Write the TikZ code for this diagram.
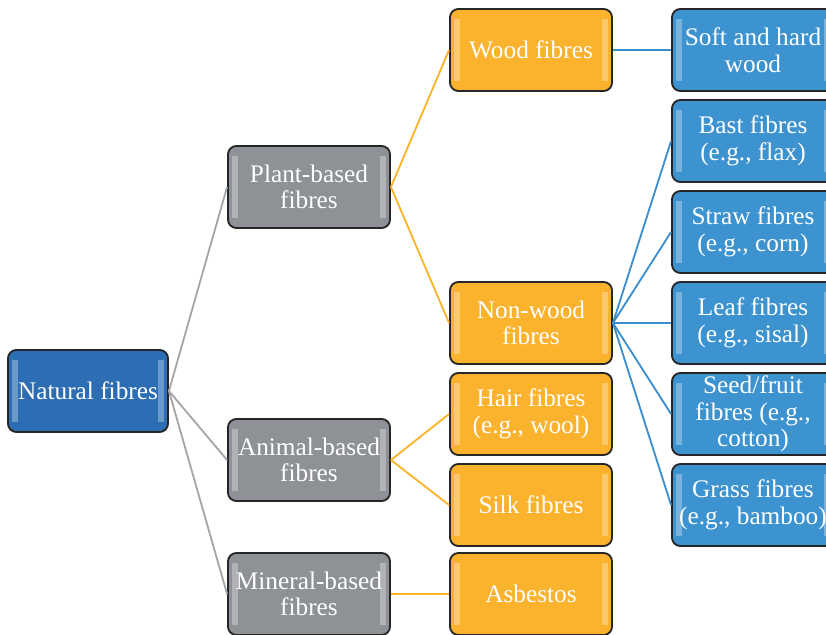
\documentclass[tikz,border=0pt]{standalone}
\usepackage{fontspec}
\setmainfont{Liberation Serif}
\usetikzlibrary{positioning}

\definecolor{rootblue}{HTML}{2C6DB4}
\definecolor{leafblue}{HTML}{3C93D0}
\definecolor{stonegray}{HTML}{8E9195}
\definecolor{amber}{HTML}{FBB22D}
\definecolor{rimgray}{HTML}{262626}
\definecolor{linkgray}{HTML}{A3A6AA}
\definecolor{linkamber}{HTML}{FBB42A}
\definecolor{linkblue}{HTML}{3A8ECE}

\tikzset{
  fibrebox/.style={draw=rimgray, line width=1.3pt, rounded corners=6pt,
    minimum width=4.05cm, minimum height=2.05cm, inner sep=1pt,
    align=center, text=white, font=\fontsize{18}{18.9}\selectfont,
    path picture={
      \fill[white,opacity=0.3,sharp corners]
        ([shift={(3pt,-7pt)}]path picture bounding box.north west) rectangle
        ([shift={(7pt,7pt)}]path picture bounding box.south west);
      \fill[white,opacity=0.3,sharp corners]
        ([shift={(-3pt,-7pt)}]path picture bounding box.north east) rectangle
        ([shift={(-7pt,7pt)}]path picture bounding box.south east);
    }},
  rootbox/.style={fibrebox, fill=rootblue, minimum width=4cm},
  groupbox/.style={fibrebox, fill=stonegray},
  kindbox/.style={fibrebox, fill=amber},
  sortbox/.style={fibrebox, fill=leafblue},
  graylink/.style={draw=linkgray, line width=1.3pt},
  amberlink/.style={draw=linkamber, line width=1.3pt},
  bluelink/.style={draw=linkblue, line width=1.3pt}
}

\begin{document}
\begin{tikzpicture}[x=0.025cm,y=-0.025cm]
  \clip (0,0) rectangle (826,635);
  \useasboundingbox (0,0) rectangle (826,635);

  % root
  \node[rootbox] (natural) at (88,391) {Natural fibres};

  % groups
  \node[groupbox] (plant) at (309,187) {Plant-based\\fibres};
  \node[groupbox] (animal) at (309,460) {Animal-based\\fibres};
  \node[groupbox] (mineral) at (309,594) {Mineral-based\\fibres};

  % kinds
  \node[kindbox] (wood) at (531,50) {Wood fibres};
  \node[kindbox] (nonwood) at (531,323) {Non-wood\\fibres};
  \node[kindbox] (hair) at (531,414) {Hair fibres\\(e.g., wool)};
  \node[kindbox] (silk) at (531,505) {Silk fibres};
  \node[kindbox] (asbestos) at (531,594) {Asbestos};

  % sorts
  \node[sortbox] (hardwood) at (753,50) {Soft and hard\\wood};
  \node[sortbox] (bast) at (753,141) {Bast fibres\\(e.g., flax)};
  \node[sortbox] (straw) at (753,232) {Straw fibres\\(e.g., corn)};
  \node[sortbox] (leaf) at (753,323) {Leaf fibres\\(e.g., sisal)};
  \node[sortbox] (seed) at (753,414) {Seed/fruit\\fibres (e.g.,\\cotton)};
  \node[sortbox] (grass) at (753,505) {Grass fibres\\(e.g., bamboo)};

  % links
  \foreach \g in {plant,animal,mineral}
    \draw[graylink] (natural.east) -- (\g.west);
  \foreach \k in {wood,nonwood}
    \draw[amberlink] (plant.east) -- (\k.west);
  \foreach \k in {hair,silk}
    \draw[amberlink] (animal.east) -- (\k.west);
  \draw[amberlink] (mineral.east) -- (asbestos.west);
  \draw[bluelink] (wood.east) -- (hardwood.west);
  \foreach \s in {bast,straw,leaf,seed,grass}
    \draw[bluelink] (nonwood.east) -- (\s.west);
\end{tikzpicture}
\end{document}
